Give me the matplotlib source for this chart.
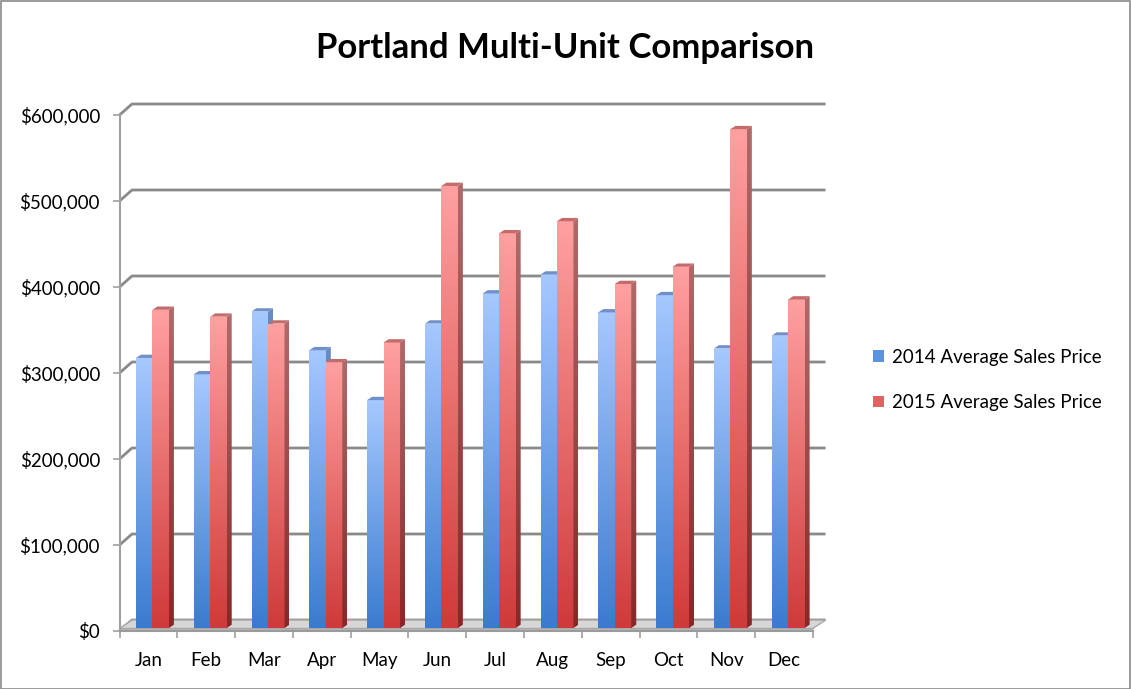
import matplotlib
matplotlib.use('Agg')
import matplotlib.pyplot as plt
import numpy as np
from matplotlib.patches import Polygon, Rectangle
from matplotlib.colors import LinearSegmentedColormap

# ---------------- data ----------------
months = ['Jan', 'Feb', 'Mar', 'Apr', 'May', 'Jun',
          'Jul', 'Aug', 'Sep', 'Oct', 'Nov', 'Dec']
sales_2014 = [314000, 295000, 368000, 323000, 265000, 354000,
              389000, 411000, 367000, 387000, 325000, 340000]
sales_2015 = [370000, 362000, 354000, 309000, 332000, 514000,
              459000, 473000, 400000, 420000, 580000, 382000]
series_labels = ['2014 Average Sales Price', '2015 Average Sales Price']
y_ticks = [0, 100000, 200000, 300000, 400000, 500000, 600000]
y_tick_labels = ['$0', '$100,000', '$200,000', '$300,000',
                 '$400,000', '$500,000', '$600,000']
title = 'Portland Multi-Unit Comparison'

# ---------------- style ----------------
plt.rcParams['font.family'] = ['Lato', 'DejaVu Sans']
W, H = 1131, 689
fig = plt.figure(figsize=(W / 100, H / 100), dpi=100)
fig.patch.set_facecolor('white')

ax_left, ax_bottom, ax_w, ax_h = 119.5, 58, 693.5, 516
ax = fig.add_axes([ax_left / W, ax_bottom / H, ax_w / W, ax_h / H])
ax.set_facecolor('none')

n = len(months)
ymax = y_ticks[-1]
ux = n / ax_w          # data units per pixel (x)
uy = ymax / ax_h       # data units per pixel (y)

wall_dx, wall_dy = 12.5 * ux, 11 * uy
floor_th = 2.5 * uy
bar_base = 3 * uy
bar_dx, bar_dy = 5 * ux, 3.3 * uy
bar_w = 0.285
blue_off = 0.285

blue_front = ('#3A7BD0', '#A6C8FF')
blue_side = ('#2C5A98', '#6A8CC4')
blue_top = '#6F90C8'
red_front = ('#CF3A3A', '#FFA0A0')
red_side = ('#852828', '#B06A6A')
red_top = '#C46C6C'

grad = np.linspace(0, 1, 256).reshape(-1, 1)


def grad_image(clip_patch, extent, colors, z):
    cmap = LinearSegmentedColormap.from_list('g', list(colors))
    im = ax.imshow(grad, cmap=cmap, extent=extent, origin='lower',
                   aspect='auto', interpolation='bilinear', zorder=z)
    im.set_clip_path(clip_patch)
    return im


# back wall + left wall gridlines
for v in y_ticks:
    ax.plot([0, wall_dx, n + wall_dx], [v, v + wall_dy, v + wall_dy],
            color='#8A8A8A', lw=2, clip_on=False, zorder=1,
            solid_capstyle='butt')

# floor slab (top surface + thin front edge)
floor_top = Polygon([(0, floor_th), (n, floor_th),
                     (n + wall_dx, wall_dy), (wall_dx, wall_dy)],
                    closed=True, facecolor='#D6D6D6', edgecolor='#A8A8A8',
                    lw=1.0, zorder=2, clip_on=False)
ax.add_patch(floor_top)
floor_front = Rectangle((0, 0), n, floor_th, facecolor='#B4B4B4',
                        edgecolor='none', zorder=2, clip_on=False)
ax.add_patch(floor_front)

x = np.arange(n)


def draw_series(values, offset, front, side, top, z):
    bars = ax.bar(x + offset, values, width=bar_w, bottom=bar_base,
                  align='edge', facecolor='none', edgecolor='none', zorder=z)
    for b, v in zip(bars, values):
        x0 = b.get_x()
        x1 = x0 + b.get_width()
        y0 = b.get_y()
        y1 = y0 + b.get_height()
        grad_image(b, [x0, x1, y0, y1], front, z)
        side_poly = Polygon([(x1, y0), (x1 + bar_dx, y0 + bar_dy),
                             (x1 + bar_dx, y1 + bar_dy), (x1, y1)],
                            closed=True, facecolor='none', edgecolor='none',
                            zorder=z)
        ax.add_patch(side_poly)
        grad_image(side_poly, [x1, x1 + bar_dx, y0, y1 + bar_dy], side, z)
        top_poly = Polygon([(x0, y1), (x1, y1), (x1 + bar_dx, y1 + bar_dy),
                            (x0 + bar_dx, y1 + bar_dy)], closed=True,
                           facecolor=top, edgecolor='none', zorder=z + 0.1)
        ax.add_patch(top_poly)
    return bars


draw_series(sales_2014, blue_off, blue_front, blue_side, blue_top, 3)
draw_series(sales_2015, blue_off + bar_w, red_front, red_side, red_top, 4)

ax.set_xlim(0, n)
ax.set_ylim(0, ymax)

# spines
for s in ['top', 'right']:
    ax.spines[s].set_visible(False)
ax.spines['left'].set_color('#A0A0A0')
ax.spines['left'].set_linewidth(1.5)
ax.spines['bottom'].set_color('#9A9A9A')
ax.spines['bottom'].set_linewidth(1.5)
ax.spines['left'].set_zorder(5)
ax.spines['bottom'].set_zorder(5)

ax.set_yticks(y_ticks)
ax.set_yticklabels(y_tick_labels)
ax.tick_params(axis='y', length=5, width=1.2, color='#A0A0A0', pad=9,
               labelsize=13.5, labelcolor='black')

ax.set_xticks(np.arange(n + 1))
ax.set_xticklabels([''] * (n + 1))
ax.set_xticks(x + 0.5, minor=True)
ax.set_xticklabels(months, minor=True)
ax.tick_params(axis='x', which='major', length=5, width=1.2, color='#A0A0A0')
ax.tick_params(axis='x', which='minor', length=0, pad=15, labelsize=13.5,
               labelcolor='black')

# title
fig.text(0.5, 1 - 48 / H, title, ha='center', va='center',
         fontsize=25, fontweight='bold', color='black')

# legend
handles = [Rectangle((0, 0), 1, 1, facecolor='#5B93E0', edgecolor='none'),
           Rectangle((0, 0), 1, 1, facecolor='#E06262', edgecolor='none')]
fig.legend(handles, series_labels, loc='center left',
           bbox_to_anchor=(873 / W, 1 - 380 / H), frameon=False,
           fontsize=13.5, handlelength=0.6, handleheight=0.6,
           handletextpad=0.4, labelspacing=1.5, borderaxespad=0,
           borderpad=0)

# outer border
fig.add_artist(Rectangle((0.5 / W, 0.5 / H), 1 - 1.5 / W, 1 - 1.5 / H,
                         transform=fig.transFigure, fill=False,
                         edgecolor='#8A8A8A', lw=1.2))

fig.savefig('out.png', dpi=100)
